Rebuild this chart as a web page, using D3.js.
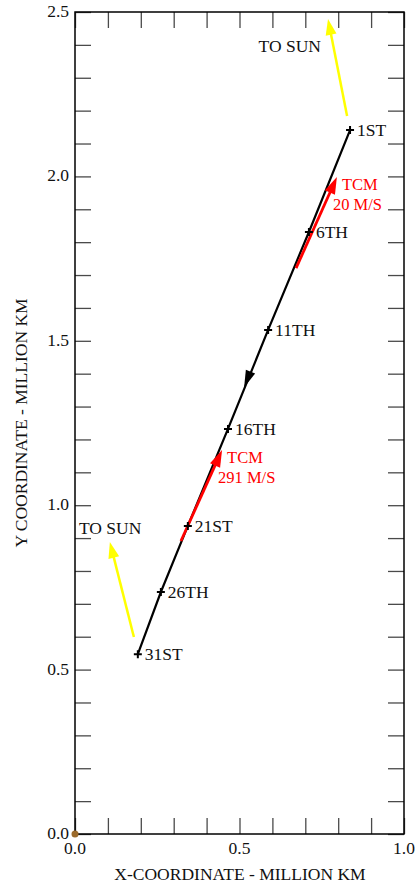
<!DOCTYPE html>
<html>
<head>
<meta charset="utf-8">
<script src="https://cdn.jsdelivr.net/npm/d3@7"></script>
<style>
  html, body { margin: 0; padding: 0; background: #fff; }
</style>
</head>
<body>
<svg id="chart" width="420" height="888"></svg>
<script>
// Daily trajectory positions (million km)
const dayLabels = ["1ST", "6TH", "11TH", "16TH", "21ST", "26TH", "31ST"];
const dayX = [0.836, 0.711, 0.587, 0.465, 0.343, 0.261, 0.191];
const dayY = [2.141, 1.831, 1.533, 1.232, 0.937, 0.736, 0.547];

// Trajectory correction manoeuvres: start and tip of each burn vector
const tcmLabels = [["TCM", "20 M/S"], ["TCM", "291 M/S"]];
const tcmStart = [[0.672, 1.721], [0.322, 0.891]];
const tcmEnd   = [[0.796, 1.998], [0.447, 1.168]];

// Sun direction arrows
const sunStart = [[0.827, 2.184], [0.179, 0.599]];
const sunEnd   = [[0.769, 2.479], [0.106, 0.888]];
const sunLabelPos = [[0.558, 2.378], [0.012, 0.912]];

// Direction-of-motion arrowhead on the trajectory
const motionTip = [0.514, 1.358];

// Axis tick values
const xTicks = d3.range(0, 1.0001, 0.1);
const yTicks = d3.range(0, 2.5001, 0.1);
const xTickLabels = ["0.0", "0.5", "1.0"];
const yTickLabels = ["0.0", "0.5", "1.0", "1.5", "2.0", "2.5"];

const svg = d3.select("#chart");
const m = { left: 75, right: 404, top: 12, bottom: 834 };
const font = "'Liberation Serif', 'Times New Roman', Times, 'DejaVu Serif', serif";
const fs = 17.5;

const x = d3.scaleLinear().domain([0, 1.0]).range([m.left, m.right]);
const y = d3.scaleLinear().domain([0, 2.5]).range([m.bottom, m.top]);

const tickLen = 16;
const tickColor = "#4a4a4a";

// Inward ticks on all four sides
const g = svg.append("g");
const axisBottom = d3.axisBottom(x).tickValues(xTicks).tickSize(-tickLen).tickFormat("");
const axisTop = d3.axisTop(x).tickValues(xTicks).tickSize(-tickLen).tickFormat("");
const axisLeft = d3.axisLeft(y).tickValues(yTicks).tickSize(-tickLen).tickFormat("");
const axisRight = d3.axisRight(y).tickValues(yTicks).tickSize(-tickLen).tickFormat("");

[[axisBottom, `translate(0,${m.bottom})`], [axisTop, `translate(0,${m.top})`],
 [axisLeft, `translate(${m.left},0)`], [axisRight, `translate(${m.right},0)`]].forEach(([ax, tr]) => {
  const a = g.append("g").attr("transform", tr).call(ax);
  a.select(".domain").remove();
  a.selectAll(".tick line").attr("stroke", tickColor).attr("stroke-width", 1.3);
});

// Frame
svg.append("rect")
  .attr("x", m.left).attr("y", m.top)
  .attr("width", m.right - m.left).attr("height", m.bottom - m.top)
  .attr("fill", "none").attr("stroke", "#000").attr("stroke-width", 1.5);

function label(sel) {
  return sel.attr("font-family", font).attr("font-size", fs).attr("fill", "#111");
}

// Tick labels
svg.append("g").selectAll("text").data(xTickLabels).join("text")
  .call(label)
  .attr("x", d => x(+d)).attr("y", m.bottom + 20)
  .attr("text-anchor", "middle")
  .text(d => d);
svg.append("g").selectAll("text").data(yTickLabels).join("text")
  .call(label)
  .attr("x", m.left - 6).attr("y", d => y(+d) + 5)
  .attr("text-anchor", "end")
  .text(d => d);

// Axis titles
svg.append("text").call(label)
  .attr("x", 240).attr("y", 880)
  .attr("text-anchor", "middle")
  .text("X-COORDINATE - MILLION KM");
svg.append("text").call(label)
  .attr("transform", `translate(27,${(m.top + m.bottom) / 2}) rotate(-90)`)
  .attr("text-anchor", "middle")
  .text("Y COORDINATE - MILLION KM");

// Arrowhead helper: filled triangle at tip pointing from (fx,fy) to (tx,ty), in pixels
function arrowHead(sel, fx, fy, tx, ty, len, halfW, color) {
  const ang = Math.atan2(ty - fy, tx - fx);
  const bx = tx - len * Math.cos(ang), by = ty - len * Math.sin(ang);
  const px = -Math.sin(ang) * halfW, py = Math.cos(ang) * halfW;
  sel.append("path")
    .attr("d", `M${tx},${ty}L${bx + px},${by + py}L${bx - px},${by - py}Z`)
    .attr("fill", color);
}

// Sun direction arrows
sunStart.forEach((s, i) => {
  const e = sunEnd[i];
  const fx = x(s[0]), fy = y(s[1]), tx = x(e[0]), ty = y(e[1]);
  const ang = Math.atan2(ty - fy, tx - fx);
  svg.append("line")
    .attr("x1", fx).attr("y1", fy)
    .attr("x2", tx - 12 * Math.cos(ang)).attr("y2", ty - 12 * Math.sin(ang))
    .attr("stroke", "#ffff00").attr("stroke-width", 2.5);
  arrowHead(svg, fx, fy, tx, ty, 16, 5.5, "#ffff00");
  svg.append("text").call(label)
    .attr("x", x(sunLabelPos[i][0])).attr("y", y(sunLabelPos[i][1]))
    .text("TO SUN");
});

// Trajectory
const pts = dayX.map((d, i) => [x(d), y(dayY[i])]);
svg.append("path")
  .attr("d", d3.line()(pts))
  .attr("fill", "none").attr("stroke", "#000").attr("stroke-width", 2.2);

// TCM burn vectors
tcmStart.forEach((s, i) => {
  const e = tcmEnd[i];
  const fx = x(s[0]), fy = y(s[1]), tx = x(e[0]), ty = y(e[1]);
  const ang = Math.atan2(ty - fy, tx - fx);
  svg.append("line")
    .attr("x1", fx).attr("y1", fy)
    .attr("x2", tx - 12 * Math.cos(ang)).attr("y2", ty - 12 * Math.sin(ang))
    .attr("stroke", "#ff0000").attr("stroke-width", 2.8);
  arrowHead(svg, fx, fy, tx, ty, 17, 5.5, "#ff0000");
  svg.append("text").call(label).attr("fill", "#ff0000").attr("font-size", 16.5)
    .attr("x", tx + 5).attr("y", ty + 13).text(tcmLabels[i][0]);
  svg.append("text").call(label).attr("fill", "#ff0000").attr("font-size", 16.5)
    .attr("x", tx - 4).attr("y", ty + 33).text(tcmLabels[i][1]);
});

// Motion direction arrowhead
{
  const tx = x(motionTip[0]), ty = y(motionTip[1]);
  const ang = Math.atan2(pts[3][1] - pts[2][1], pts[3][0] - pts[2][0]);
  arrowHead(svg, tx - Math.cos(ang) * 20, ty - Math.sin(ang) * 20, tx, ty, 17, 5, "#000");
}

// Day markers and labels
svg.append("g").selectAll("path").data(pts).join("path")
  .attr("d", d => `M${d[0] - 4},${d[1]}H${d[0] + 4}M${d[0]},${d[1] - 4}V${d[1] + 4}`)
  .attr("stroke", "#000").attr("stroke-width", 2);
svg.append("g").selectAll("text").data(dayLabels).join("text")
  .call(label)
  .attr("x", (d, i) => pts[i][0] + 7).attr("y", (d, i) => pts[i][1] + 6)
  .text(d => d);

// Earth at the origin
svg.append("circle")
  .attr("cx", x(0)).attr("cy", y(0)).attr("r", 3.5)
  .attr("fill", "#9c6b2c");
</script>
</body>
</html>
